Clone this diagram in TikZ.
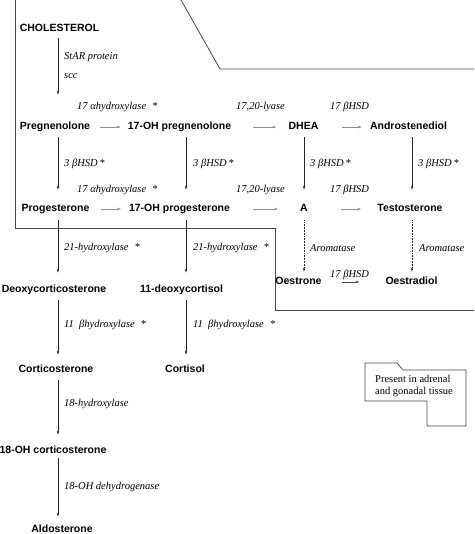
\documentclass[tikz,border=0pt]{standalone}
\usepackage{fontspec}
\setmainfont{Liberation Serif}
\newfontfamily\sansbold{Liberation Sans}[UprightFont=* Bold]
\usetikzlibrary{arrows.meta}
\begin{document}
\begin{tikzpicture}[x=1pt,y=-1pt,
  cmpd/.style={font=\sansbold\fontsize{10.5}{12}\selectfont, inner sep=0pt, text height=8pt, text depth=2.5pt},
  enz/.style={font=\itshape\fontsize{10.5}{12}\selectfont, anchor=west, inner sep=0pt},
  tip/.style={-{Stealth[length=4pt,width=2.6pt]}},
  varr/.style={tip, draw=black!85, line width=0.55pt, shorten <=5pt, shorten >=10pt},
  darr/.style={varr, densely dotted},
  harr/.style={tip, draw=black!45, line width=0.7pt},
  region/.style={draw=black!72, line width=0.8pt},
  legendtext/.style={font=\fontsize{10.5}{12}\selectfont, align=left, anchor=north west, inner sep=0pt}
]
\useasboundingbox (0,0) rectangle (474,534);

% region outline (adrenal + gonadal)
\draw[region] (15,0) -- (15,228) -- (275,228) -- (275,310) -- (474,310);
\draw[region] (181,0) -- (220,69) -- (474,69);

% column coordinates
\coordinate (colA) at (58,0);
\coordinate (colB) at (186,0);
\coordinate (colC) at (304,0);
\coordinate (colD) at (412,0);

% compounds
\node[cmpd] (chol) at (59.5,29) {CHOLESTEROL};
\node[cmpd] (preg) at (55,127) {Pregnenolone};
\node[cmpd] (ohpreg) at (179.5,127) {17-OH pregnenolone};
\node[cmpd] (dhea) at (303.5,127) {DHEA};
\node[cmpd] (adiol) at (408.5,127) {Androstenediol};
\node[cmpd] (prog) at (55.5,209) {Progesterone};
\node[cmpd] (ohprog) at (179.5,209) {17-OH progesterone};
\node[cmpd] (andro) at (304,209) {A};
\node[cmpd] (testo) at (410,209) {Testosterone};
\node[cmpd] (oestrone) at (298.5,282) {Oestrone};
\node[cmpd] (oestradiol) at (411.5,282) {Oestradiol};
\node[cmpd] (deoxy) at (54,290) {Deoxycorticosterone};
\node[cmpd] (deoxycortisol) at (181.5,290) {11-deoxycortisol};
\node[cmpd] (cortico) at (56,370) {Corticosterone};
\node[cmpd] (cortisol) at (185,370) {Cortisol};
\node[cmpd] (oh18) at (53,451) {18-OH corticosterone};
\node[cmpd] (aldo) at (62,530) {Aldosterone};

% enzymes
\node[enz] (e1) at (64,57) {StAR protein};
\node[enz] (e2) at (64,76) {scc};
\node[enz] (e3) at (77,107) {17 αhydroxylase\hspace{6pt}*};
\node[enz] (e4) at (236,107) {17,20-lyase};
\node[enz] (e5) at (330,107) {17 βHSD};
\node[enz] (e6) at (64,164) {3 βHSD\,*};
\node[enz] (e7) at (193,164) {3 βHSD\,*};
\node[enz] (e8) at (310,164) {3 βHSD\,*};
\node[enz] (e9) at (418,164) {3 βHSD\,*};
\node[enz] (e10) at (77,190) {17 αhydroxylase\hspace{6pt}*};
\node[enz] (e11) at (236,190) {17,20-lyase};
\node[enz] (e12) at (330,190) {17 βHSD};
\node[enz] (e13) at (64,248) {21-hydroxylase\hspace{6pt}*};
\node[enz] (e14) at (193,248) {21-hydroxylase\hspace{6pt}*};
\node[enz] (e15) at (310,248) {Aromatase};
\node[enz] (e16) at (419,248) {Aromatase};
\node[enz] (e17) at (330,275) {17 βHSD};
\node[enz] (e18) at (64,325) {11\enspace βhydroxylase\hspace{6pt}*};
\node[enz] (e19) at (193,325) {11\enspace βhydroxylase\hspace{6pt}*};
\node[enz] (e20) at (64,404) {18-hydroxylase};
\node[enz] (e21) at (64,487) {18-OH dehydrogenase};

% vertical arrows
\draw[varr, shorten <=4pt, shorten >=27pt] (chol.south -| colA) -- (preg.north -| colA);
\draw[varr, shorten >=14pt] (preg.south -| colA) -- (prog.north -| colA);
\draw[varr, shorten >=14pt] (ohpreg.south -| colB) -- (ohprog.north -| colB);
\draw[varr, shorten >=14pt] (dhea.south -| colC) -- (andro.north -| colC);
\draw[varr, shorten >=14pt] (adiol.south -| colD) -- (testo.north -| colD);
\draw[darr, shorten <=6pt, shorten >=5pt] (andro.south -| colC) -- (oestrone.north -| colC);
\draw[darr, shorten <=6pt, shorten >=5pt] (testo.south -| colD) -- (oestradiol.north -| colD);
\draw[varr, shorten <=6pt, shorten >=12pt] (prog.south -| colA) -- (deoxy.north -| colA);
\draw[varr, shorten <=6pt, shorten >=12pt] (ohprog.south -| colB) -- (deoxycortisol.north -| colB);
\draw[varr] (deoxy.south -| colA) -- (cortico.north -| colA);
\draw[varr] (deoxycortisol.south -| colB) -- (cortisol.north -| colB);
\draw[varr, shorten >=11pt] (cortico.south -| colA) -- (oh18.north -| colA);
\draw[varr, shorten <=2pt, shorten >=8pt] (oh18.south -| colA) -- (aldo.north -| colA);

% horizontal arrows
\draw[harr, shorten <=10pt, shorten >=7pt] (preg.east) -- (ohpreg.west);
\draw[harr, shorten <=11pt, shorten >=8pt] (prog.east) -- (ohprog.west);
\draw[harr, shorten <=22pt, shorten >=12pt] (ohpreg.east) -- (dhea.west);
\draw[harr, shorten <=23pt, shorten >=22pt] (ohprog.east) -- (andro.west);
\draw[harr, shorten <=23pt, shorten >=8pt] (dhea.east) -- (adiol.west);
\draw[harr, shorten <=33pt, shorten >=16pt] (andro.east) -- (testo.west);
\draw[harr, draw=black!70, line width=0.5pt, shorten <=20pt, shorten >=26pt] (oestrone.east) -- (oestradiol.west);

% legend
\draw[region, line width=0.7pt] (365,363) -- (397,363) -- (403,370) -- (466,370) -- (466,426) -- (427,426) -- (427,401) -- (365,401) -- cycle;
\node[legendtext] (legend) at (375,375) {Present in adrenal\\and gonadal tissue};
\end{tikzpicture}
\end{document}
